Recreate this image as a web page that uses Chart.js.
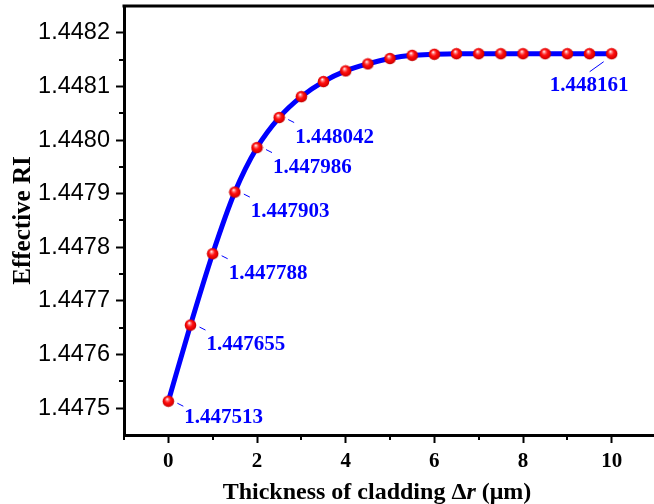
<!DOCTYPE html>
<html><head><meta charset="utf-8">
<script src="https://cdn.jsdelivr.net/npm/chart.js@4/dist/chart.umd.min.js"></script>
<style>html,body{margin:0;padding:0;overflow:hidden;background:#fff}canvas{display:block}</style>
</head><body>
<canvas id="c" width="656" height="504"></canvas>
<script>
const thickness = [0,0.5,1,1.5,2,2.5,3,3.5,4,4.5,5,5.5,6,6.5,7,7.5,8,8.5,9,9.5,10];
const effectiveRI = [1.447513,1.447655,1.447788,1.447903,1.447986,1.448042,1.448081,1.448109,1.448129,1.448142,1.448152,1.448158,1.448160,1.448161,1.448161,1.448161,1.448161,1.448161,1.448161,1.448161,1.448161];
const labelledIndex = [0,1,2,3,4,5,20];
const xTicks = [0,2,4,6,8,10];
const xMinorTicks = [-1,1,3,5,7,9];
const yTicks = [1.4475,1.4476,1.4477,1.4478,1.4479,1.4480,1.4481,1.4482];
const yMinorTicks = [1.44755,1.44765,1.44775,1.44785,1.44795,1.44805,1.44815];
const yTitle = 'Effective RI';
const xTitleParts = [['Thickness of cladding \u0394',''],['r','italic '],[' (\u03bcm)','']];

function sphere(){
  const r=5.8, s=13;
  const c=document.createElement('canvas'); c.width=s; c.height=s;
  const g=c.getContext('2d');
  const grd=g.createRadialGradient(5.2,4.2,0.3,6.5,6.5,6.2);
  grd.addColorStop(0,'#ffffff');
  grd.addColorStop(0.18,'#ff8080');
  grd.addColorStop(0.45,'#ff1010');
  grd.addColorStop(0.8,'#e00000');
  grd.addColorStop(1,'#a00000');
  g.fillStyle=grd; g.beginPath(); g.arc(6.5,6.5,r,0,2*Math.PI); g.fill();
  return c;
}

const decor = {
  id:'decor',
  afterDatasetsDraw(chart){
    const {ctx, chartArea:a, scales:{x,y}} = chart;
    ctx.save();
    ctx.strokeStyle='#000'; ctx.lineWidth=3;
    ctx.beginPath(); ctx.moveTo(a.left-1.5,a.top); ctx.lineTo(a.right,a.top); ctx.stroke();
    ctx.lineWidth=2;
    xMinorTicks.forEach(v=>{const px=Math.round(x.getPixelForValue(v)); ctx.beginPath(); ctx.moveTo(px,a.bottom); ctx.lineTo(px,a.bottom+5); ctx.stroke();});
    yMinorTicks.forEach(v=>{const py=Math.round(y.getPixelForValue(v)); ctx.beginPath(); ctx.moveTo(a.left,py); ctx.lineTo(a.left-5,py); ctx.stroke();});
    ctx.font='bold 21px "Liberation Serif"'; ctx.fillStyle='#0000ff'; ctx.strokeStyle='#0000ff'; ctx.lineWidth=1;
    ctx.textBaseline='alphabetic'; ctx.textAlign='left';
    labelledIndex.forEach(i=>{
      const px=x.getPixelForValue(thickness[i]), py=y.getPixelForValue(effectiveRI[i]);
      const txt=effectiveRI[i].toFixed(6);
      ctx.beginPath();
      if(i===thickness.length-1){
        ctx.moveTo(px-22,py+18); ctx.lineTo(px-8,py+8); ctx.stroke();
        ctx.fillText(txt,px-62,py+37);
      } else {
        ctx.moveTo(px+9,py+2); ctx.lineTo(px+15,py+5); ctx.stroke();
        ctx.fillText(txt,px+16,py+(i===0?22:25));
      }
    });
    ctx.restore();
  },
  afterDraw(chart){
    const {ctx, chartArea:a} = chart;
    ctx.save();
    ctx.fillStyle='#000'; ctx.textBaseline='middle'; ctx.textAlign='left';
    const fonts = xTitleParts.map(p=>p[1]+'bold 24px "Liberation Serif"');
    let w=0; xTitleParts.forEach((p,i)=>{ctx.font=fonts[i]; w+=ctx.measureText(p[0]).width;});
    let cx=(a.left+a.right)/2-13 - w/2;
    xTitleParts.forEach((p,i)=>{ctx.font=fonts[i]; ctx.fillText(p[0],cx,493); cx+=ctx.measureText(p[0]).width;});
    ctx.restore();
  }
};

new Chart(document.getElementById('c'),{
  type:'line',
  data:{datasets:[{
    data: thickness.map((t,i)=>({x:t,y:effectiveRI[i]})),
    borderColor:'#0000ff', borderWidth:5,
    cubicInterpolationMode:'monotone',
    pointStyle: sphere(), pointRadius:6, pointHoverRadius:6
  }]},
  options:{
    responsive:false, animation:false, events:[],
    layout:{autoPadding:false, padding:{top:6,right:0,left:0,bottom:0}},
    plugins:{legend:{display:false},tooltip:{enabled:false}},
    scales:{
      x:{type:'linear', min:-1, max:11,
        afterBuildTicks:s=>{s.ticks=xTicks.map(v=>({value:v}));},
        afterFit:s=>{s.height=69; s.paddingLeft=0; s.paddingRight=0;},
        grid:{drawOnChartArea:false, tickLength:8, tickWidth:2, tickColor:'#000'},
        border:{color:'#000', width:3},
        ticks:{color:'#000', font:{family:'"Liberation Serif"', weight:'bold', size:21}, padding:6, maxRotation:0,
          callback:v=>String(v)}
      },
      y:{type:'linear', min:1.44745, max:1.44825,
        afterBuildTicks:s=>{s.ticks=yTicks.map(v=>({value:v}));},
        afterFit:s=>{s.width=124; s.paddingTop=0; s.paddingBottom=0;},
        grid:{drawOnChartArea:false, tickLength:8, tickWidth:2, tickColor:'#000'},
        border:{color:'#000', width:3},
        ticks:{color:'#000', font:{family:'"Liberation Sans"', size:23.5}, padding:6,
          callback:v=>Number(v).toFixed(4)},
        title:{display:true, text:yTitle, color:'#000', font:{family:'"Liberation Serif"', weight:'bold', size:25}, padding:{top:9,bottom:0}}
      }
    }
  },
  plugins:[decor]
});
</script>
</body></html>
